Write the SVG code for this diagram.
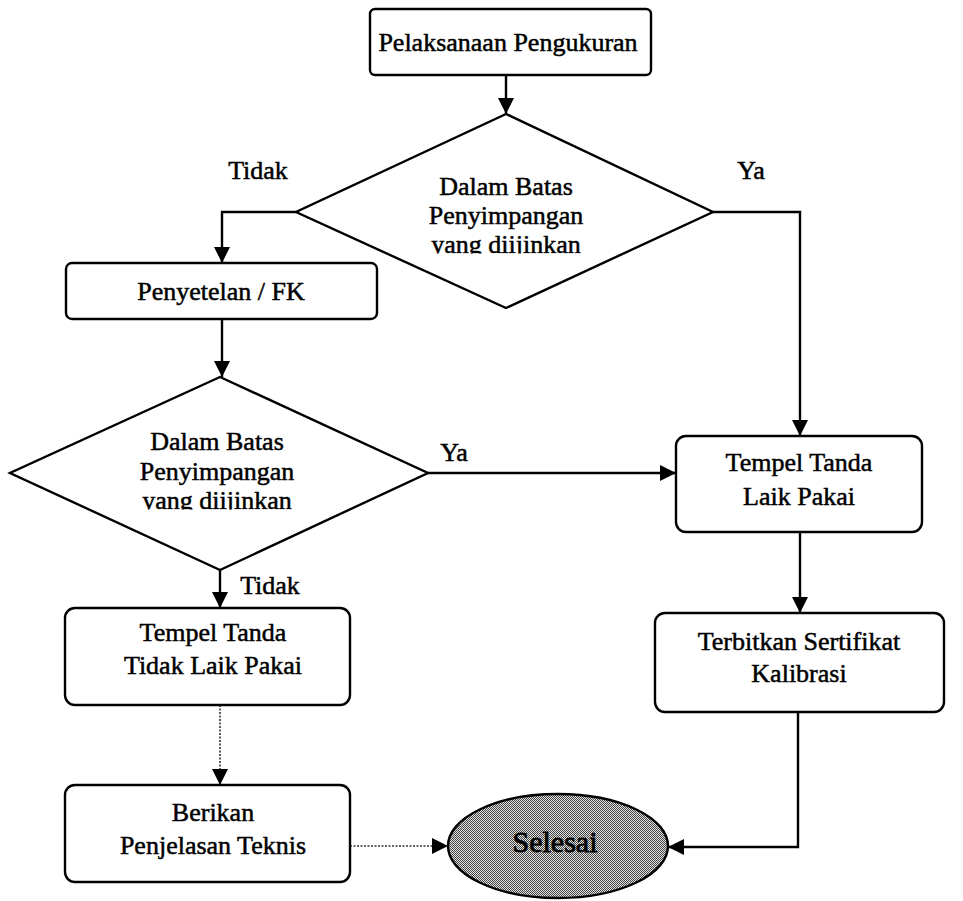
<svg xmlns="http://www.w3.org/2000/svg" width="963" height="901" viewBox="0 0 963 901">
  <style>
    .box { fill: #fff; stroke: #000; stroke-width: 2.4; }
    .lbl { font-family: "Liberation Serif", "Times New Roman", serif; font-size: 26px; fill: #000; stroke: #000; stroke-width: 0.5; text-anchor: middle; }
    .edge { fill: none; stroke: #000; stroke-width: 2.4; }
    .dot { fill: none; stroke: #333; stroke-width: 1.6; stroke-dasharray: 2 1.5; }
  </style>
  <defs>
    <marker id="arrow" markerUnits="userSpaceOnUse" markerWidth="16" markerHeight="16" refX="16" refY="8" orient="auto">
      <path d="M0,0 L16,8 L0,16 z" fill="#000"/>
    </marker>
    <pattern id="halftone" width="2" height="2" patternUnits="userSpaceOnUse">
      <rect width="2" height="2" fill="#e2e2e2"/>
      <rect width="1" height="1" fill="#444"/>
      <rect x="1" y="1" width="1" height="1" fill="#444"/>
    </pattern>
    <!-- the third line of each decision is printed with its descenders cut off -->
    <clipPath id="cut1" clipPathUnits="userSpaceOnUse"><rect x="380" y="225" width="260" height="28.5"/></clipPath>
    <clipPath id="cut2" clipPathUnits="userSpaceOnUse"><rect x="90" y="481" width="260" height="28.5"/></clipPath>
  </defs>

  <g id="connectors">
    <line class="edge" x1="506" y1="75" x2="506" y2="114" marker-end="url(#arrow)"/>
    <polyline class="edge" points="296,212 222,212 222,263" marker-end="url(#arrow)"/>
    <line class="edge" x1="222" y1="319" x2="222" y2="377" marker-end="url(#arrow)"/>
    <polyline class="edge" points="713,212 800,212 800,436" marker-end="url(#arrow)"/>
    <line class="edge" x1="428" y1="473" x2="676" y2="473" marker-end="url(#arrow)"/>
    <line class="edge" x1="800" y1="532" x2="800" y2="613" marker-end="url(#arrow)"/>
    <line class="edge" x1="220" y1="570" x2="220" y2="608" marker-end="url(#arrow)"/>
    <line class="dot" x1="220" y1="705" x2="220" y2="785" marker-end="url(#arrow)"/>
    <polyline class="edge" points="798,712 798,847 668,847" marker-end="url(#arrow)"/>
    <line class="dot" x1="350" y1="846" x2="448" y2="846" marker-end="url(#arrow)"/>
    <text class="lbl" x="258" y="179">Tidak</text>
    <text class="lbl" x="751" y="179">Ya</text>
    <text class="lbl" x="454" y="461">Ya</text>
    <text class="lbl" x="270" y="594">Tidak</text>
  </g>

  <g id="start">
    <rect class="box" x="370" y="9" width="281" height="66" rx="5"/>
    <text class="lbl" x="508" y="51">Pelaksanaan Pengukuran</text>
  </g>

  <g id="check1">
    <polygon class="box" points="506,114 713,212 506,308 296,212"/>
    <text class="lbl" x="506" y="195">Dalam Batas</text>
    <text class="lbl" x="506" y="224">Penyimpangan</text>
    <text class="lbl" x="506" y="253" clip-path="url(#cut1)">yang diijinkan</text>
  </g>

  <g id="adjust">
    <rect class="box" x="66" y="263" width="311" height="56" rx="6"/>
    <text class="lbl" x="221" y="300">Penyetelan / FK</text>
  </g>

  <g id="check2">
    <polygon class="box" points="220,377 428,473 220,570 10,473"/>
    <text class="lbl" x="217" y="450">Dalam Batas</text>
    <text class="lbl" x="217" y="480">Penyimpangan</text>
    <text class="lbl" x="217" y="509" clip-path="url(#cut2)">yang diijinkan</text>
  </g>

  <g id="label-ok">
    <rect class="box" x="676" y="436" width="246" height="96" rx="10"/>
    <text class="lbl" x="799" y="471">Tempel Tanda</text>
    <text class="lbl" x="799" y="505">Laik Pakai</text>
  </g>

  <g id="certificate">
    <rect class="box" x="655" y="613" width="289" height="99" rx="10"/>
    <text class="lbl" x="799" y="650">Terbitkan Sertifikat</text>
    <text class="lbl" x="799" y="682">Kalibrasi</text>
  </g>

  <g id="label-reject">
    <rect class="box" x="65" y="608" width="285" height="97" rx="10"/>
    <text class="lbl" x="213" y="641">Tempel Tanda</text>
    <text class="lbl" x="213" y="674">Tidak Laik Pakai</text>
  </g>

  <g id="explain">
    <rect class="box" x="65" y="785" width="285" height="97" rx="10"/>
    <text class="lbl" x="213" y="821">Berikan</text>
    <text class="lbl" x="213" y="854">Penjelasan Teknis</text>
  </g>

  <g id="end">
    <ellipse cx="558" cy="846" rx="110" ry="52" fill="url(#halftone)" stroke="#000" stroke-width="2.4"/>
    <text class="lbl" x="555" y="852" style="font-size:30px;stroke-width:0.8">Selesai</text>
  </g>
</svg>
